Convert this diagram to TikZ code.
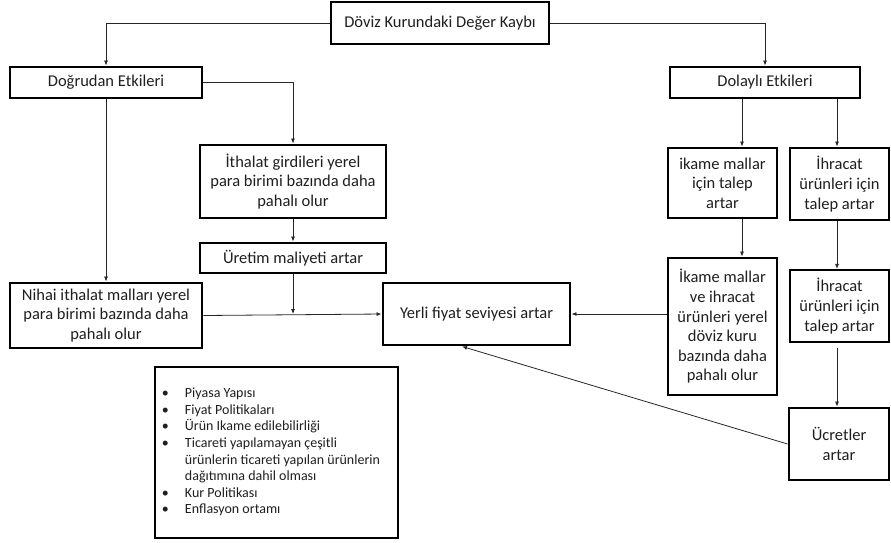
\documentclass[tikz,border=0pt]{standalone}
\usepackage{fontspec}
\setmainfont{Carlito}
\usetikzlibrary{arrows.meta}
\tikzset{
  box/.style={draw=black, line width=2.9pt, fill=white, align=center, inner sep=0pt,
    font=\fontsize{16.5}{19.6}\selectfont, text=black!88},
  arr/.style={draw=black!85, line width=0.8pt, -{Latex[length=5pt,width=4pt]}},
  ln/.style={draw=black!85, line width=0.8pt}
}
\begin{document}
\begin{tikzpicture}[x=1pt,y=-1pt]
\useasboundingbox (0,0) rectangle (891,542);
% boxes
\node[box, minimum width=218, minimum height=42] (top) at (440,23) {Döviz Kurundaki Değer Kaybı};
\node[box, minimum width=192, minimum height=31] (dog) at (106,82.5) {Doğrudan Etkileri};
\node[box, minimum width=190, minimum height=31] (dol) at (765,82.5) {Dolaylı Etkileri};
\node[box, minimum width=186, minimum height=73] (ith) at (293,181.5) {İthalat girdileri yerel\\para birimi bazında daha\\pahalı olur};
\node[box, minimum width=186, minimum height=30] (ure) at (293,258) {Üretim maliyeti artar};
\node[box, minimum width=192, minimum height=65] (nih) at (106,315.5) {Nihai ithalat malları yerel\\para birimi bazında daha\\pahalı olur};
\node[box, minimum width=187, minimum height=62] (yer) at (476.5,314) {Yerli fiyat seviyesi artar};
\node[box, minimum width=109, minimum height=70] (ika) at (722.5,183) {ikame mallar\\için talep\\artar};
\node[box, minimum width=99, minimum height=72] (ihr1) at (839.5,184) {İhracat\\ürünleri için\\talep artar};
\node[box, minimum width=109, minimum height=137] (ikv) at (722.5,326.5) {İkame mallar\\ve ihracat\\ürünleri yerel\\döviz kuru\\bazında daha\\pahalı olur};
\node[box, line width=2.2pt, minimum width=99, minimum height=72] (ihr2) at (839.5,306) {İhracat\\ürünleri için\\talep artar};
\node[box, minimum width=100, minimum height=72] (ucr) at (839,444) {Ücretler\\artar};
\node[box, line width=2.4pt, minimum width=243, minimum height=171, align=left,
  font=\fontsize{14}{16.6}\selectfont] (bul) at (276.5,452.5) {%
  \begin{tabular}{@{}p{23pt}@{}l@{\hspace{11pt}}}
  \textbullet & Piyasa Yapısı\\
  \textbullet & Fiyat Politikaları\\
  \textbullet & Ürün Ikame edilebilirliği\\
  \textbullet & Ticareti yapılamayan çeşitli\\
   & ürünlerin ticareti yapılan ürünlerin\\
   & dağıtımına dahil olması\\
  \textbullet & Kur Politikası\\
  \textbullet & Enflasyon ortamı
  \end{tabular}};
% helper coordinates
\coordinate (xa) at (742,0);
\coordinate (xb) at (837,0);
\coordinate (xc) at (462,0);
% connectors
\draw[arr] (top.west) -| (dog.north);
\draw[arr] (top.east) -| (dol.north);
\draw[arr] (dog.south) -- (nih.north);
\draw[arr] (dog.east) -| (ith.north);
\draw[arr] (ith.south) -- (ure.north);
\coordinate (jn) at (ure.south |- yer.west);
\draw[arr] (ure.south) -- (jn);
\draw[arr] (nih.east) -- (yer.west);
\draw[arr] (ikv.west |- yer.east) -- (yer.east);
\draw[arr] (dol.south -| xa) -- (ika.north -| xa);
\draw[arr] (dol.south -| xb) -- (ihr1.north -| xb);
\draw[arr] (ika.south -| xa) -- (ikv.north -| xa);
\draw[arr] (ihr1.south -| xb) -- (ihr2.north -| xb);
\draw[arr, shorten <=5pt] (ihr2.south -| xb) -- (ucr.north -| xb);
\draw[arr] (ucr.west) -- (yer.south -| xc);
\end{tikzpicture}
\end{document}
